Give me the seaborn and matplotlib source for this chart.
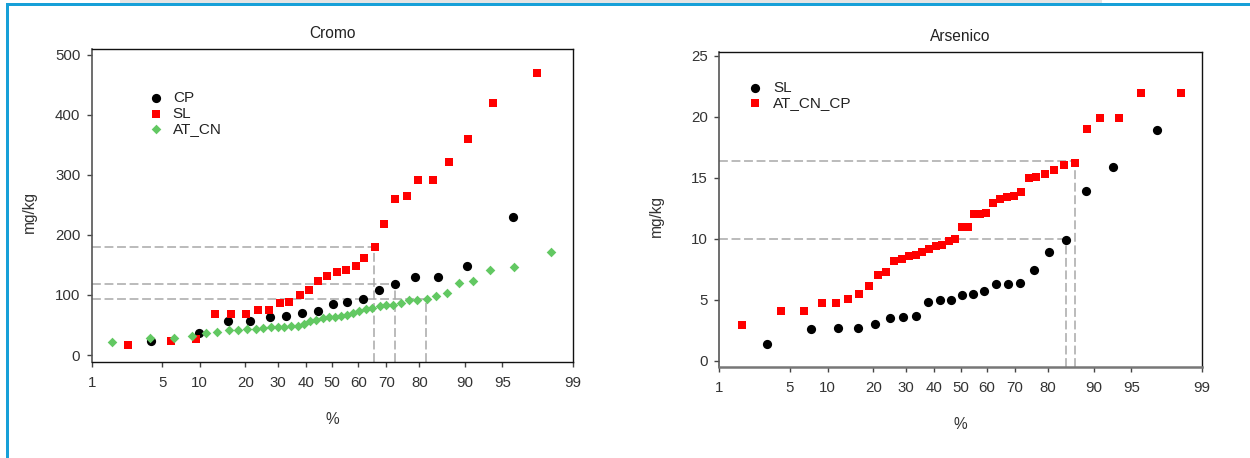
from statistics import NormalDist
import numpy as np
import pandas as pd
import seaborn as sns
import matplotlib.pyplot as plt
from matplotlib.patches import Rectangle

# ================= DATOS =================
# Cromo (percentil %, mg/kg)
cp_pct = [4.0, 9.8, 15.6, 21.3, 27.2, 32.6, 38.6, 44.4, 50.2, 55.6, 61.6, 67.5,
          72.9, 78.8, 84.6, 90.3, 96.0]
cp_val = [23, 37, 56, 56, 63, 65, 70, 73, 85, 88, 94, 109, 118, 130, 130, 149, 230]

sl_pct = [2.4, 5.9, 9.4, 12.9, 16.4, 20.1, 23.5, 27.0, 30.6, 33.9, 37.8, 41.0,
          44.7, 48.1, 51.7, 55.2, 58.9, 62.2, 65.9, 69.3, 72.9, 76.5, 79.7, 83.6,
          87.0, 90.5, 94.0, 97.6]
sl_val = [17, 24, 27, 69, 69, 69, 75, 75, 86, 89, 100, 109, 124, 131, 138, 141,
          149, 162, 180, 219, 260, 265, 291, 291, 321, 360, 420, 470]

atcn_pct = [1.65, 3.9, 6.3, 8.7, 11.1, 13.3, 15.8, 18.1, 20.4, 22.9, 25.2, 27.6,
            29.9, 32.2, 34.5, 37.0, 39.3, 41.5, 43.9, 46.3, 48.6, 51.1, 53.4,
            55.7, 58.0, 60.3, 62.7, 65.1, 67.7, 70.0, 72.1, 74.6, 77.2, 79.5,
            82.0, 84.2, 86.6, 88.9, 91.4, 93.7, 96.1, 98.3]
atcn_val = [22, 28, 28, 32, 37, 39, 41, 41, 43, 44, 45, 47, 47, 47, 48, 49, 52,
            56, 59, 61, 63, 64, 65, 67, 70, 74, 77, 78, 81, 84, 84, 87, 91, 91,
            93, 99, 104, 120, 124, 141, 146, 171]

# Arsenico
as_sl_pct = [3.1, 7.5, 11.8, 16.2, 20.4, 24.7, 29.0, 33.3, 37.6, 42.0, 46.2,
             50.6, 54.7, 58.9, 63.2, 67.5, 71.7, 76.0, 80.3, 84.4, 88.6, 92.9, 97.1]
as_sl_val = [1.4, 2.6, 2.7, 2.7, 3.0, 3.5, 3.6, 3.7, 4.85, 4.95, 4.95, 5.35,
             5.45, 5.75, 6.3, 6.3, 6.4, 7.4, 8.95, 9.9, 13.9, 15.9, 18.95]

as_acc_pct = [1.74, 4.2, 6.6, 9.1, 11.5, 13.9, 16.3, 18.8, 21.2, 23.7, 26.1,
              28.6, 30.9, 33.2, 35.6, 38.1, 40.6, 43.0, 45.4, 47.8, 50.5, 52.7,
              55.1, 57.5, 59.6, 62.4, 64.9, 67.2, 69.5, 71.9, 74.4, 76.7, 79.3,
              81.7, 84.0, 86.4, 88.8, 91.1, 93.6, 95.9, 98.3]
as_acc_val = [2.9, 4.05, 4.05, 4.75, 4.75, 5.05, 5.5, 6.1, 7.0, 7.3, 8.2, 8.3,
              8.55, 8.65, 8.95, 9.15, 9.4, 9.5, 9.8, 9.95, 11.0, 11.0, 12.0, 12.0,
              12.1, 12.95, 13.3, 13.45, 13.55, 13.85, 15.0, 15.1, 15.3, 15.65,
              16.05, 16.25, 19.0, 19.95, 19.95, 22.0, 22.0]

# lineas guia (percentil, valor)
guias_cromo = [(65.7, 180), (72.9, 119), (81.8, 93.5)]
guias_arsenico = [(86.4, 16.35), (84.4, 9.95)]

x_ticks = [1, 5, 10, 20, 30, 40, 50, 60, 70, 80, 90, 95, 99]

# ================= ESCALA PROBABILISTICA =================
_nd = NormalDist()
_ppf = np.vectorize(lambda v: _nd.inv_cdf(v), otypes=[float])
_cdf = np.vectorize(lambda v: _nd.cdf(v), otypes=[float])


def probit(p):
    p = np.clip(np.asarray(p, dtype=float), 1e-9, 100 - 1e-9)
    return _ppf(p / 100.0)


def inv_probit(z):
    return 100.0 * _cdf(np.asarray(z, dtype=float))


sns.set_style("white")
plt.rcParams['font.family'] = ['Liberation Sans', 'DejaVu Sans']

RED = "#ff0000"
GREEN = "#62c862"
GUIDE = "#a8a8a8"

fig = plt.figure(figsize=(12.5, 4.58), dpi=100)
ax1 = fig.add_axes([0.0734, 0.2103, 0.3848, 0.6821])
ax2 = fig.add_axes([0.5754, 0.1993, 0.3862, 0.6878])


def draw_panel(ax, series, guias, ylim, yticks, title, leg_anchor, leg_pad):
    for name, pct, val, marker, color, size in series:
        df = pd.DataFrame({"pct": pct, "val": val})
        sns.scatterplot(data=df, x="pct", y="val", ax=ax, marker=marker,
                        color=color, s=size, linewidth=0, label=name, zorder=3)
    ax.set_xscale("function", functions=(probit, inv_probit))
    ax.set_xlim(1, 99)
    ax.set_ylim(*ylim)
    ax.set_xticks(x_ticks)
    ax.set_xticklabels([str(t) for t in x_ticks])
    ax.xaxis.set_minor_locator(plt.NullLocator())
    ax.set_yticks(yticks)
    ax.set_yticklabels([str(t) for t in yticks])

    for p, v in guias:
        ax.hlines(v, 1, p, colors=GUIDE, linestyles=(0, (5.8, 2.4)), lw=1.1, zorder=1)
        ax.vlines(p, ylim[0], v, colors=GUIDE, linestyles=(0, (5.8, 2.4)), lw=1.1, zorder=1)

    ax.tick_params(axis="both", direction="out", length=3.3, width=1,
                   color="#444444", labelcolor="#333333", labelsize=10.8)
    ax.tick_params(axis="x", pad=7.0, bottom=True)
    ax.tick_params(axis="y", pad=5.0, left=True)
    for side in ["top", "right", "bottom"]:
        ax.spines[side].set_color("#111111")
        ax.spines[side].set_linewidth(1)
    ax.spines["left"].set_color("#555555")
    ax.spines["left"].set_linewidth(1.2)

    ax.set_title(title, fontsize=11.2, color="#222222", pad=8.0)
    ax.set_xlabel("%", fontsize=11.2, color="#333333")
    ax.set_ylabel("mg/kg", fontsize=11.2, color="#333333")
    ax.xaxis.set_label_coords(0.5, -0.16)
    ax.yaxis.set_label_coords(-0.114, 0.48)

    leg = ax.legend(loc="upper left", bbox_to_anchor=leg_anchor, frameon=False,
                    fontsize=11, handlelength=1.0, handletextpad=leg_pad,
                    labelspacing=0.1, borderpad=0, borderaxespad=0,
                    markerscale=1.0)
    for t in leg.get_texts():
        t.set_color("#222222")


draw_panel(ax1,
           [("CP", cp_pct, cp_val, "o", "black", 44),
            ("SL", sl_pct, sl_val, "s", RED, 34),
            ("AT_CN", atcn_pct, atcn_val, "D", GREEN, 24)],
           guias_cromo, (-11, 509), [0, 100, 200, 300, 400, 500], "Cromo",
           (0.117, 0.866), 0.62)

draw_panel(ax2,
           [("SL", as_sl_pct, as_sl_val, "o", "black", 44),
            ("AT_CN_CP", as_acc_pct, as_acc_val, "s", RED, 34)],
           guias_arsenico, (-0.5, 25.35), [0, 5, 10, 15, 20, 25], "Arsenico",
           (0.058, 0.908), 0.7)
ax2.spines["bottom"].set_color("#777777")
ax2.spines["bottom"].set_linewidth(1.8)

# marco de la pagina
W, H = 1250.0, 458.0
fig.add_artist(Rectangle((120 / W, 1 - 3 / H), (1102 - 120) / W, 3 / H,
                         transform=fig.transFigure, color="#e4e4e4", lw=0))
fig.add_artist(Rectangle((7 / W, 1 - 5.7 / H), 1 - 7 / W, 2.7 / H,
                         transform=fig.transFigure, color="#17a0d8", lw=0))
fig.add_artist(Rectangle((6 / W, 0), 2.7 / W, 1 - 3 / H,
                         transform=fig.transFigure, color="#17a0d8", lw=0))

fig.savefig("out.png", dpi=100)
